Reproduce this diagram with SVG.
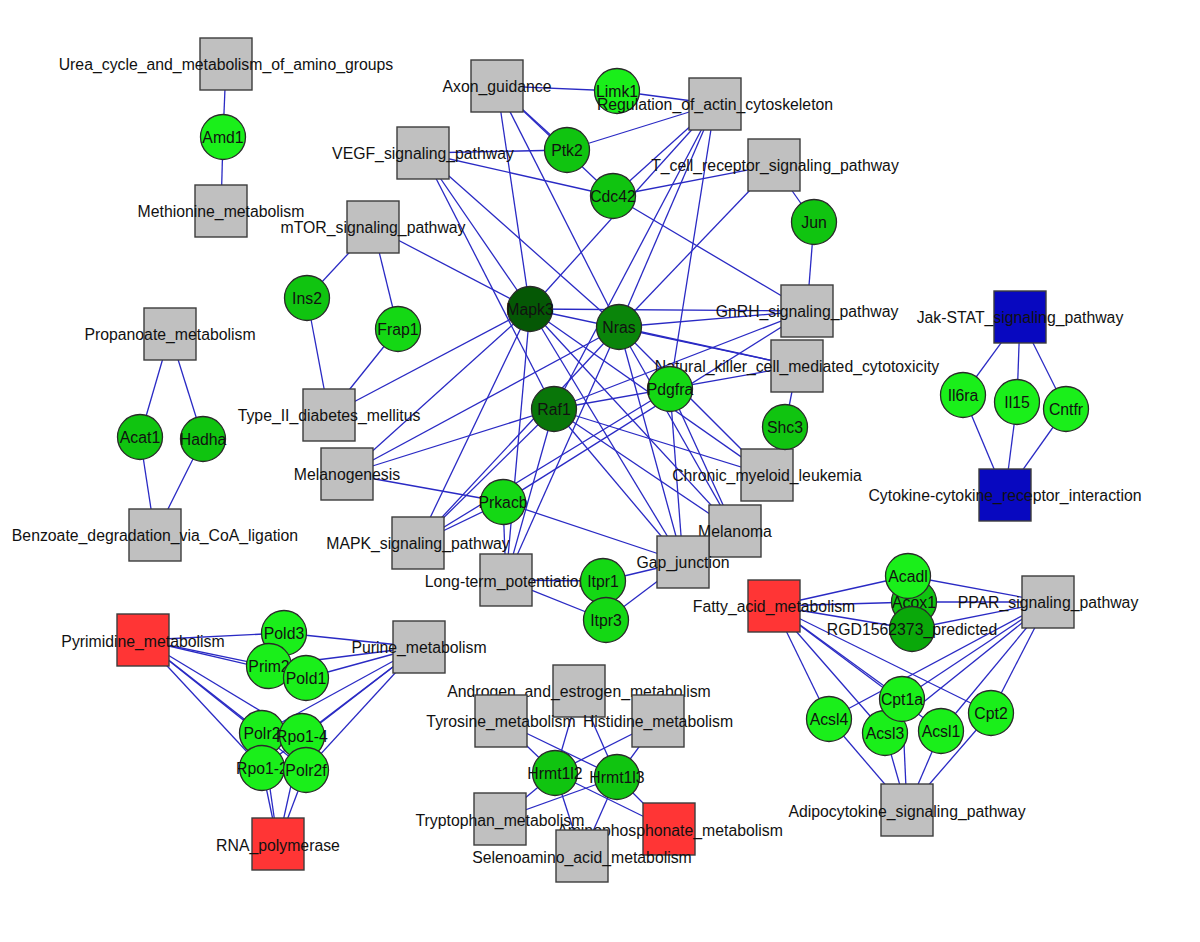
<svg xmlns="http://www.w3.org/2000/svg" width="1200" height="942" viewBox="0 0 1200 942">
<style>
.bg{fill:#ffffff}
.sq{fill:#c0c0c0;stroke:#3c3c3c;stroke-width:1.4}
.red{fill:#ff3535;stroke:#3c3c3c;stroke-width:1.4}
.blu{fill:#0808c0;stroke:#3c3c3c;stroke-width:1.4}
.c{stroke:#2a2a2a;stroke-width:1.3}
.g1{fill:#1aef1a}
.g2{fill:#14d814}
.g3{fill:#10c410}
.g4{fill:#0aa80a}
.g5{fill:#0a850a}
.g6{fill:#097609}
.g7{fill:#055805}
.lb{font-family:"Liberation Sans",Arial,sans-serif;font-size:15.8px;fill:#111;text-anchor:middle}
#connectors line{stroke:#2a2ac4;stroke-width:1.3}
</style>
<rect class="bg" x="0" y="0" width="1200" height="942"/>
<g id="connectors">
<line x1="226" y1="64" x2="223" y2="137"/>
<line x1="221" y1="211" x2="223" y2="137"/>
<line x1="170" y1="334" x2="140" y2="437"/>
<line x1="170" y1="334" x2="203" y2="439"/>
<line x1="155" y1="535" x2="140" y2="437"/>
<line x1="155" y1="535" x2="203" y2="439"/>
<line x1="373" y1="227" x2="307" y2="298"/>
<line x1="373" y1="227" x2="398" y2="329"/>
<line x1="373" y1="227" x2="530" y2="309"/>
<line x1="329" y1="415" x2="307" y2="298"/>
<line x1="329" y1="415" x2="398" y2="329"/>
<line x1="329" y1="415" x2="530" y2="309"/>
<line x1="497" y1="86" x2="617" y2="91"/>
<line x1="715" y1="104" x2="617" y2="91"/>
<line x1="497" y1="86" x2="567" y2="150"/>
<line x1="497" y1="86" x2="613" y2="196"/>
<line x1="423" y1="153" x2="567" y2="150"/>
<line x1="423" y1="153" x2="613" y2="196"/>
<line x1="423" y1="153" x2="530" y2="309"/>
<line x1="423" y1="153" x2="619" y2="327"/>
<line x1="423" y1="153" x2="554" y2="409"/>
<line x1="715" y1="104" x2="567" y2="150"/>
<line x1="715" y1="104" x2="613" y2="196"/>
<line x1="715" y1="104" x2="530" y2="309"/>
<line x1="715" y1="104" x2="619" y2="327"/>
<line x1="715" y1="104" x2="554" y2="409"/>
<line x1="715" y1="104" x2="670" y2="389"/>
<line x1="774" y1="165" x2="613" y2="196"/>
<line x1="774" y1="165" x2="619" y2="327"/>
<line x1="774" y1="165" x2="814" y2="222"/>
<line x1="807" y1="311" x2="814" y2="222"/>
<line x1="807" y1="311" x2="613" y2="196"/>
<line x1="807" y1="311" x2="530" y2="309"/>
<line x1="807" y1="311" x2="619" y2="327"/>
<line x1="807" y1="311" x2="554" y2="409"/>
<line x1="807" y1="311" x2="503" y2="502"/>
<line x1="497" y1="86" x2="530" y2="309"/>
<line x1="497" y1="86" x2="619" y2="327"/>
<line x1="797" y1="366" x2="530" y2="309"/>
<line x1="797" y1="366" x2="619" y2="327"/>
<line x1="797" y1="366" x2="554" y2="409"/>
<line x1="797" y1="366" x2="785" y2="427"/>
<line x1="767" y1="475" x2="785" y2="427"/>
<line x1="767" y1="475" x2="530" y2="309"/>
<line x1="767" y1="475" x2="619" y2="327"/>
<line x1="767" y1="475" x2="554" y2="409"/>
<line x1="735" y1="531" x2="530" y2="309"/>
<line x1="735" y1="531" x2="619" y2="327"/>
<line x1="735" y1="531" x2="554" y2="409"/>
<line x1="735" y1="531" x2="670" y2="389"/>
<line x1="683" y1="562" x2="530" y2="309"/>
<line x1="683" y1="562" x2="619" y2="327"/>
<line x1="683" y1="562" x2="554" y2="409"/>
<line x1="683" y1="562" x2="670" y2="389"/>
<line x1="683" y1="562" x2="503" y2="502"/>
<line x1="683" y1="562" x2="603" y2="581"/>
<line x1="683" y1="562" x2="606" y2="620"/>
<line x1="347" y1="474" x2="530" y2="309"/>
<line x1="347" y1="474" x2="619" y2="327"/>
<line x1="347" y1="474" x2="554" y2="409"/>
<line x1="347" y1="474" x2="503" y2="502"/>
<line x1="418" y1="543" x2="530" y2="309"/>
<line x1="418" y1="543" x2="619" y2="327"/>
<line x1="418" y1="543" x2="554" y2="409"/>
<line x1="418" y1="543" x2="503" y2="502"/>
<line x1="418" y1="543" x2="670" y2="389"/>
<line x1="506" y1="580" x2="530" y2="309"/>
<line x1="506" y1="580" x2="619" y2="327"/>
<line x1="506" y1="580" x2="554" y2="409"/>
<line x1="506" y1="580" x2="503" y2="502"/>
<line x1="506" y1="580" x2="603" y2="581"/>
<line x1="506" y1="580" x2="606" y2="620"/>
<line x1="1020" y1="317" x2="963" y2="395"/>
<line x1="1020" y1="317" x2="1017" y2="402"/>
<line x1="1020" y1="317" x2="1066" y2="409"/>
<line x1="1005" y1="495" x2="963" y2="395"/>
<line x1="1005" y1="495" x2="1017" y2="402"/>
<line x1="1005" y1="495" x2="1066" y2="409"/>
<line x1="143" y1="640" x2="284" y2="633"/>
<line x1="143" y1="640" x2="269" y2="666"/>
<line x1="143" y1="640" x2="306" y2="678"/>
<line x1="143" y1="640" x2="262" y2="733"/>
<line x1="143" y1="640" x2="302" y2="736"/>
<line x1="143" y1="640" x2="262" y2="768"/>
<line x1="143" y1="640" x2="306" y2="770"/>
<line x1="419" y1="647" x2="284" y2="633"/>
<line x1="419" y1="647" x2="269" y2="666"/>
<line x1="419" y1="647" x2="306" y2="678"/>
<line x1="419" y1="647" x2="262" y2="733"/>
<line x1="419" y1="647" x2="302" y2="736"/>
<line x1="419" y1="647" x2="262" y2="768"/>
<line x1="419" y1="647" x2="306" y2="770"/>
<line x1="278" y1="844" x2="262" y2="733"/>
<line x1="278" y1="844" x2="302" y2="736"/>
<line x1="278" y1="844" x2="262" y2="768"/>
<line x1="278" y1="844" x2="306" y2="770"/>
<line x1="555" y1="773" x2="579" y2="691"/>
<line x1="555" y1="773" x2="501" y2="721"/>
<line x1="555" y1="773" x2="658" y2="721"/>
<line x1="555" y1="773" x2="500" y2="819"/>
<line x1="555" y1="773" x2="669" y2="829"/>
<line x1="555" y1="773" x2="582" y2="856"/>
<line x1="617" y1="777" x2="579" y2="691"/>
<line x1="617" y1="777" x2="501" y2="721"/>
<line x1="617" y1="777" x2="658" y2="721"/>
<line x1="617" y1="777" x2="500" y2="819"/>
<line x1="617" y1="777" x2="669" y2="829"/>
<line x1="617" y1="777" x2="582" y2="856"/>
<line x1="774" y1="606" x2="908" y2="576"/>
<line x1="774" y1="606" x2="914" y2="602"/>
<line x1="774" y1="606" x2="912" y2="629"/>
<line x1="774" y1="606" x2="902" y2="699"/>
<line x1="774" y1="606" x2="829" y2="719"/>
<line x1="774" y1="606" x2="885" y2="733"/>
<line x1="774" y1="606" x2="941" y2="731"/>
<line x1="774" y1="606" x2="991" y2="713"/>
<line x1="1048" y1="602" x2="908" y2="576"/>
<line x1="1048" y1="602" x2="914" y2="602"/>
<line x1="1048" y1="602" x2="912" y2="629"/>
<line x1="1048" y1="602" x2="902" y2="699"/>
<line x1="1048" y1="602" x2="829" y2="719"/>
<line x1="1048" y1="602" x2="885" y2="733"/>
<line x1="1048" y1="602" x2="941" y2="731"/>
<line x1="1048" y1="602" x2="991" y2="713"/>
<line x1="907" y1="810" x2="829" y2="719"/>
<line x1="907" y1="810" x2="885" y2="733"/>
<line x1="907" y1="810" x2="902" y2="699"/>
<line x1="907" y1="810" x2="941" y2="731"/>
<line x1="907" y1="810" x2="991" y2="713"/>
</g>
<g id="n-urea"><rect class="sq" x="200" y="38" width="52" height="52"/><text class="lb" x="226" y="70">Urea_cycle_and_metabolism_of_amino_groups</text></g>
<g id="n-amd1"><circle class="c g1" cx="223" cy="137" r="22.5"/><text class="lb" x="223" y="142.5">Amd1</text></g>
<g id="n-methionine"><rect class="sq" x="195" y="185" width="52" height="52"/><text class="lb" x="221" y="217">Methionine_metabolism</text></g>
<g id="n-axon"><rect class="sq" x="471" y="60" width="52" height="52"/><text class="lb" x="497" y="92">Axon_guidance</text></g>
<g id="n-limk1"><circle class="c g1" cx="617" cy="91" r="22.5"/><text class="lb" x="617" y="96.5">Limk1</text></g>
<g id="n-regulation"><rect class="sq" x="689" y="78" width="52" height="52"/><text class="lb" x="715" y="110">Regulation_of_actin_cytoskeleton</text></g>
<g id="n-vegf"><rect class="sq" x="397" y="127" width="52" height="52"/><text class="lb" x="423" y="159">VEGF_signaling_pathway</text></g>
<g id="n-ptk2"><circle class="c g3" cx="567" cy="150" r="22.5"/><text class="lb" x="567" y="155.5">Ptk2</text></g>
<g id="n-cdc42"><circle class="c g3" cx="613" cy="196" r="22.5"/><text class="lb" x="613" y="201.5">Cdc42</text></g>
<g id="n-tcell"><rect class="sq" x="748" y="139" width="52" height="52"/><text class="lb" x="775" y="171">T_cell_receptor_signaling_pathway</text></g>
<g id="n-jun"><circle class="c g3" cx="814" cy="222" r="22.5"/><text class="lb" x="814" y="227.5">Jun</text></g>
<g id="n-mtor"><rect class="sq" x="347" y="201" width="52" height="52"/><text class="lb" x="373" y="233">mTOR_signaling_pathway</text></g>
<g id="n-ins2"><circle class="c g3" cx="307" cy="298" r="22.5"/><text class="lb" x="307" y="303.5">Ins2</text></g>
<g id="n-frap1"><circle class="c g2" cx="398" cy="329" r="22.5"/><text class="lb" x="398" y="334.5">Frap1</text></g>
<g id="n-gnrh"><rect class="sq" x="781" y="285" width="52" height="52"/><text class="lb" x="807" y="317">GnRH_signaling_pathway</text></g>
<g id="n-nk"><rect class="sq" x="771" y="340" width="52" height="52"/><text class="lb" x="797" y="372">Natural_killer_cell_mediated_cytotoxicity</text></g>
<g id="n-mapk3"><circle class="c g7" cx="530" cy="309" r="22.5"/><text class="lb" x="530" y="314.5">Mapk3</text></g>
<g id="n-nras"><circle class="c g5" cx="619" cy="327" r="22.5"/><text class="lb" x="619" y="332.5">Nras</text></g>
<g id="n-pdgfra"><circle class="c g2" cx="670" cy="389" r="22.5"/><text class="lb" x="670" y="394.5">Pdgfra</text></g>
<g id="n-raf1"><circle class="c g6" cx="554" cy="409" r="22.5"/><text class="lb" x="554" y="414.5">Raf1</text></g>
<g id="n-chronic"><rect class="sq" x="741" y="449" width="52" height="52"/><text class="lb" x="767" y="481">Chronic_myeloid_leukemia</text></g>
<g id="n-shc3"><circle class="c g3" cx="785" cy="427" r="22.5"/><text class="lb" x="785" y="432.5">Shc3</text></g>
<g id="n-jakstat"><rect class="blu" x="994" y="291" width="52" height="52"/><text class="lb" x="1020" y="323">Jak-STAT_signaling_pathway</text></g>
<g id="n-il6ra"><circle class="c g1" cx="963" cy="395" r="22.5"/><text class="lb" x="963" y="400.5">Il6ra</text></g>
<g id="n-il15"><circle class="c g1" cx="1017" cy="402" r="22.5"/><text class="lb" x="1017" y="407.5">Il15</text></g>
<g id="n-cntfr"><circle class="c g1" cx="1066" cy="409" r="22.5"/><text class="lb" x="1066" y="414.5">Cntfr</text></g>
<g id="n-cytokine"><rect class="blu" x="979" y="469" width="52" height="52"/><text class="lb" x="1005" y="501">Cytokine-cytokine_receptor_interaction</text></g>
<g id="n-propanoate"><rect class="sq" x="144" y="308" width="52" height="52"/><text class="lb" x="170" y="340">Propanoate_metabolism</text></g>
<g id="n-acat1"><circle class="c g3" cx="140" cy="437" r="22.5"/><text class="lb" x="140" y="442.5">Acat1</text></g>
<g id="n-hadha"><circle class="c g3" cx="203" cy="439" r="22.5"/><text class="lb" x="203" y="444.5">Hadha</text></g>
<g id="n-benzoate"><rect class="sq" x="129" y="509" width="52" height="52"/><text class="lb" x="155" y="541">Benzoate_degradation_via_CoA_ligation</text></g>
<g id="n-type2"><rect class="sq" x="303" y="389" width="52" height="52"/><text class="lb" x="329" y="421">Type_II_diabetes_mellitus</text></g>
<g id="n-melanogenesis"><rect class="sq" x="321" y="448" width="52" height="52"/><text class="lb" x="347" y="480">Melanogenesis</text></g>
<g id="n-prkacb"><circle class="c g2" cx="503" cy="502" r="22.5"/><text class="lb" x="503" y="507.5">Prkacb</text></g>
<g id="n-mapk"><rect class="sq" x="392" y="517" width="52" height="52"/><text class="lb" x="418" y="549">MAPK_signaling_pathway</text></g>
<g id="n-melanoma"><rect class="sq" x="709" y="505" width="52" height="52"/><text class="lb" x="735" y="537">Melanoma</text></g>
<g id="n-gap"><rect class="sq" x="657" y="536" width="52" height="52"/><text class="lb" x="683" y="568">Gap_junction</text></g>
<g id="n-ltp"><rect class="sq" x="480" y="554" width="52" height="52"/><text class="lb" x="506" y="587">Long-term_potentiation</text></g>
<g id="n-itpr1"><circle class="c g2" cx="603" cy="581" r="22.5"/><text class="lb" x="603" y="586.5">Itpr1</text></g>
<g id="n-itpr3"><circle class="c g2" cx="606" cy="620" r="22.5"/><text class="lb" x="606" y="625.5">Itpr3</text></g>
<g id="n-fatty"><rect class="red" x="748" y="580" width="52" height="52"/><text class="lb" x="774" y="612">Fatty_acid_metabolism</text></g>
<g id="n-acox1"><circle class="c g3" cx="914" cy="602" r="22.5"/><text class="lb" x="914" y="607.5">Acox1</text></g>
<g id="n-acadl"><circle class="c g1" cx="908" cy="576" r="22.5"/><text class="lb" x="908" y="581.5">Acadl</text></g>
<g id="n-rgd"><circle class="c g4" cx="912" cy="629" r="22.5"/><text class="lb" x="912" y="634.5">RGD1562373_predicted</text></g>
<g id="n-ppar"><rect class="sq" x="1022" y="576" width="52" height="52"/><text class="lb" x="1048" y="608">PPAR_signaling_pathway</text></g>
<g id="n-acsl4"><circle class="c g1" cx="829" cy="719" r="22.5"/><text class="lb" x="829" y="724.5">Acsl4</text></g>
<g id="n-acsl3"><circle class="c g1" cx="885" cy="733" r="22.5"/><text class="lb" x="885" y="738.5">Acsl3</text></g>
<g id="n-cpt1a"><circle class="c g1" cx="902" cy="699" r="22.5"/><text class="lb" x="902" y="704.5">Cpt1a</text></g>
<g id="n-acsl1"><circle class="c g1" cx="941" cy="731" r="22.5"/><text class="lb" x="941" y="736.5">Acsl1</text></g>
<g id="n-cpt2"><circle class="c g1" cx="991" cy="713" r="22.5"/><text class="lb" x="991" y="718.5">Cpt2</text></g>
<g id="n-adipo"><rect class="sq" x="881" y="784" width="52" height="52"/><text class="lb" x="907" y="817">Adipocytokine_signaling_pathway</text></g>
<g id="n-pyrimidine"><rect class="red" x="117" y="614" width="52" height="52"/><text class="lb" x="143" y="647">Pyrimidine_metabolism</text></g>
<g id="n-purine"><rect class="sq" x="393" y="621" width="52" height="52"/><text class="lb" x="419" y="653">Purine_metabolism</text></g>
<g id="n-pold3"><circle class="c g1" cx="284" cy="633" r="22.5"/><text class="lb" x="284" y="638.5">Pold3</text></g>
<g id="n-prim2"><circle class="c g1" cx="269" cy="666" r="22.5"/><text class="lb" x="269" y="671.5">Prim2</text></g>
<g id="n-pold1"><circle class="c g1" cx="306" cy="678" r="22.5"/><text class="lb" x="306" y="683.5">Pold1</text></g>
<g id="n-polr2"><circle class="c g1" cx="262" cy="733" r="22.5"/><text class="lb" x="262" y="738.5">Polr2</text></g>
<g id="n-rpo14"><circle class="c g1" cx="302" cy="736" r="22.5"/><text class="lb" x="302" y="741.5">Rpo1-4</text></g>
<g id="n-rpo12"><circle class="c g1" cx="262" cy="768" r="22.5"/><text class="lb" x="262" y="773.5">Rpo1-2</text></g>
<g id="n-polr2f"><circle class="c g1" cx="306" cy="770" r="22.5"/><text class="lb" x="306" y="775.5">Polr2f</text></g>
<g id="n-rnapol"><rect class="red" x="252" y="818" width="52" height="52"/><text class="lb" x="278" y="851">RNA_polymerase</text></g>
<g id="n-androgen"><rect class="sq" x="553" y="665" width="52" height="52"/><text class="lb" x="579" y="697">Androgen_and_estrogen_metabolism</text></g>
<g id="n-tyrosine"><rect class="sq" x="475" y="695" width="52" height="52"/><text class="lb" x="501" y="727">Tyrosine_metabolism</text></g>
<g id="n-histidine"><rect class="sq" x="632" y="695" width="52" height="52"/><text class="lb" x="658" y="727">Histidine_metabolism</text></g>
<g id="n-hrmt1l2"><circle class="c g3" cx="555" cy="773" r="22.5"/><text class="lb" x="555" y="778.5">Hrmt1l2</text></g>
<g id="n-hrmt1l3"><circle class="c g3" cx="617" cy="777" r="22.5"/><text class="lb" x="617" y="782.5">Hrmt1l3</text></g>
<g id="n-tryptophan"><rect class="sq" x="474" y="793" width="52" height="52"/><text class="lb" x="500" y="826">Tryptophan_metabolism</text></g>
<g id="n-amino"><rect class="red" x="643" y="803" width="52" height="52"/><text class="lb" x="670" y="836">Aminophosphonate_metabolism</text></g>
<g id="n-seleno"><rect class="sq" x="556" y="830" width="52" height="52"/><text class="lb" x="582" y="863">Selenoamino_acid_metabolism</text></g>
</svg>
